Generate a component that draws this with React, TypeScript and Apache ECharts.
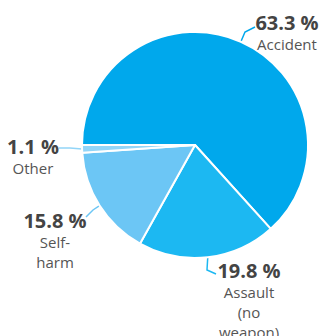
import React, { useEffect, useRef } from "react";
import * as echarts from "echarts";

const categories = ["Accident", "Assault (no weapon)", "Self-harm", "Other"];
const shares = [63.3, 19.8, 15.8, 1.1];
const colors = ["#00a8ec", "#1cb8f2", "#6cc6f5", "#92d5f8"];
// label anchor (centre x, top y) per slice
const labelX = [287, 249, 55, 33];
const labelY = [11, 259, 209, 135];
// guide line bend / end points per slice
const lineMid = [[245, 32], [207, 270], [93, 210], [70, 148]];
const lineEnd = [[255, 27], [216, 274], [86, 217], [59, 148]];

export default function App() {
  const ref = useRef<HTMLDivElement>(null);
  useEffect(() => {
    document.body.style.margin = "0";
    const chart = echarts.init(ref.current!, null, { renderer: "svg" });
    chart.setOption({
      animation: false,
      textStyle: { fontFamily: "Open Sans" },
      series: [
        {
          type: "pie",
          center: [195, 145],
          radius: 113,
          startAngle: 180,
          clockwise: true,
          avoidLabelOverlap: false,
          itemStyle: { borderColor: "#fff", borderWidth: 2 },
          data: categories.map((c, i) => ({
            name: c,
            value: shares[i],
            itemStyle: { color: colors[i] },
            labelLine: { lineStyle: { color: colors[i], width: 1.5 } },
          })),
          label: {
            show: true,
            position: "outside",
            align: "center",
            formatter: (p: any) =>
              "{v|" + p.value.toFixed(1) + " %}\n{n|" +
              p.name.replace("-", "-\n").split(" ").join("\n").replace(/\n/g, "}\n{n|") + "}",
            rich: {
              v: { fontFamily: "Open Sans", fontWeight: "bold", fontSize: 20, color: "#444", lineHeight: 23, align: "center" },
              n: { fontFamily: "Open Sans", fontSize: 15, color: "#555", lineHeight: 20, align: "center" },
            },
          },
          labelLine: { show: true, length: 10, length2: 10 },
          labelLayout: (p: any) => {
            const i = p.dataIndex;
            const start = p.labelLinePoints ? p.labelLinePoints[0] : lineMid[i];
            return {
              x: labelX[i],
              y: labelY[i],
              align: "center",
              verticalAlign: "top",
              labelLinePoints: [start, lineMid[i], lineEnd[i]],
            };
          },
        },
      ],
    });
    return () => chart.dispose();
  }, []);
  return <div ref={ref} style={{ width: 320, height: 336 }} />;
}
